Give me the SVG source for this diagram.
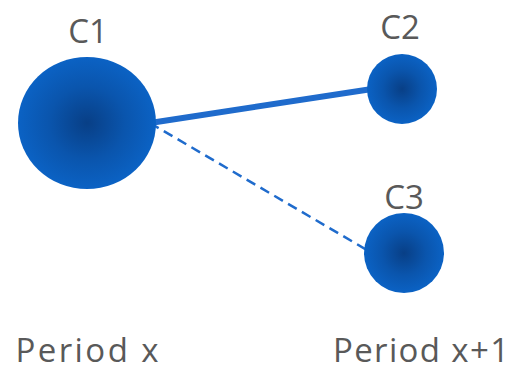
<svg xmlns="http://www.w3.org/2000/svg" width="515" height="373" viewBox="0 0 515 373">
<style>
.lbl{font-family:"Open Sans","Noto Sans","Liberation Sans",sans-serif;fill:#595959;font-size:33px;text-anchor:middle}
.node{fill:url(#g)}
.edge{stroke:#1f6bcc;fill:none}
</style>
<defs>
<radialGradient id="g" cx="0.5" cy="0.5" r="0.5">
<stop offset="0" stop-color="#083f86"/>
<stop offset="0.55" stop-color="#0a55ad"/>
<stop offset="1" stop-color="#0b62c4"/>
</radialGradient>
</defs>
<rect width="515" height="373" fill="#fff"/>
<g id="connectors">
<line class="edge" x1="150" y1="123" x2="372" y2="89" stroke-width="6"/>
<line class="edge" x1="150" y1="123" x2="372" y2="253" stroke-width="2.5" stroke-dasharray="10,6"/>
</g>
<g id="c1">
<ellipse class="node" cx="87" cy="123" rx="69" ry="66"/>
<text class="lbl" x="88" y="43">C1</text>
</g>
<g id="c2">
<circle class="node" cx="402" cy="89" r="35"/>
<text class="lbl" x="400" y="39">C2</text>
</g>
<g id="c3">
<circle class="node" cx="404" cy="253" r="40"/>
<text class="lbl" x="404" y="209">C3</text>
</g>
<g id="period-labels">
<text class="lbl" x="87" y="362" textLength="143" lengthAdjust="spacing">Period x</text>
<text class="lbl" x="421" y="362" textLength="176" lengthAdjust="spacing">Period x+1</text>
</g>
</svg>
